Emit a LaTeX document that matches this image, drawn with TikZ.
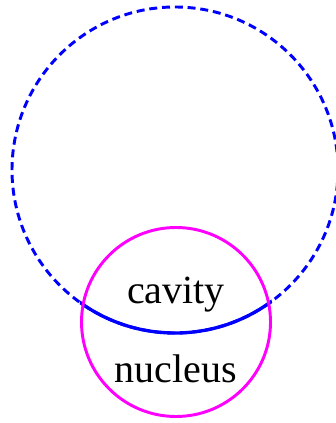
\documentclass[tikz,border=0pt]{standalone}
\usepackage{fontspec}
\setmainfont{Liberation Serif}
\definecolor{nucpink}{RGB}{255,0,255}
\definecolor{cavblue}{RGB}{0,0,255}
\begin{document}
\begin{tikzpicture}[x=0.75pt,y=-0.75pt,
  cavline/.style={draw=cavblue, line width=2.2pt},
  nucline/.style={draw=nucpink, line width=2.2pt},
  lbl/.style={font=\fontsize{30}{36}\selectfont, inner sep=0pt, anchor=base}]
\useasboundingbox (0,0) rectangle (335,423);
\fill[white] (0,0) rectangle (335,423);
\draw[cavline, dash pattern=on 6pt off 3.6pt] (175,170) circle[radius=163];
\begin{scope}
  \clip (176,322) circle[radius=98];
  \draw[cavline, line width=2.5pt] (175,170) circle[radius=163];
\end{scope}
\draw[nucline] (176,322) circle[radius=94.5];
\node[lbl] (cav) at (176,303) {cavity};
\node[lbl] (nuc) at (176,382) {nucleus};
\end{tikzpicture}
\end{document}
